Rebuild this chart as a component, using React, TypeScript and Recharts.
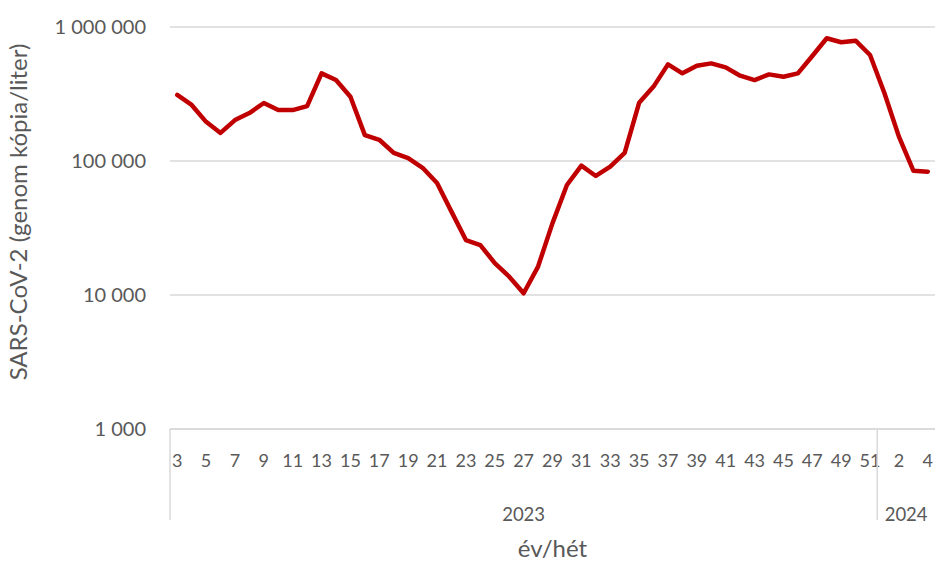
import React from "react";
import {
  LineChart,
  Line,
  XAxis,
  YAxis,
  CartesianGrid,
} from "recharts";

// 2023: weeks 3..51, 2024: weeks 1..4 (week 52 of 2023 missing)
const weeks2023 = [
  3, 4, 5, 6, 7, 8, 9, 10, 11, 12, 13, 14, 15, 16, 17, 18, 19, 20, 21, 22, 23, 24, 25, 26, 27,
  28, 29, 30, 31, 32, 33, 34, 35, 36, 37, 38, 39, 40, 41, 42, 43, 44, 45, 46, 47, 48, 49, 50, 51,
];
const values2023 = [
  311000, 262000, 196000, 162000, 202000, 228000, 271000, 240000, 240000, 257000,
  451000, 402000, 302000, 156000, 144000, 115000, 105000, 89000, 68600, 41900,
  25700, 23600, 17300, 13700, 10300, 16300, 34400, 66200, 92300, 77300,
  90800, 115000, 272000, 359000, 526000, 451000, 514000, 535000, 500000, 433000,
  402000, 443000, 425000, 451000, 608000, 824000, 769000, 791000, 618000,
];
const weeks2024 = [1, 2, 3, 4];
const values2024 = [320000, 152000, 84700, 83200];

const yTicks = [1000, 10000, 100000, 1000000];

const rows = [
  ...weeks2023.map((w, i) => ({ key: `2023-${w}`, week: w, value: values2023[i] })),
  ...weeks2024.map((w, i) => ({ key: `2024-${w}`, week: w, value: values2024[i] })),
];

const yearGroups = [
  { year: "2023", start: 0, end: weeks2023.length },
  { year: "2024", start: weeks2023.length, end: weeks2023.length + weeks2024.length },
];
const total = rows.length;

const FONT = "Lato, 'Open Sans', sans-serif";
const GREY = "#595959";
const GRID = "#d9d9d9";

const fmt = (v: number) => String(v).replace(/\B(?=(\d{3})+(?!\d))/g, " ");

// second category row: group separators + year labels
const YearTick = (props: any) => {
  const { x, y, payload, width } = props;
  const idx = payload.index as number;
  const bw = payload.offset ? payload.offset * 2 : width / total;
  const parts: any[] = [];
  yearGroups.forEach((g) => {
    if (g.start === idx) {
      const lx = x - bw / 2;
      parts.push(
        <line key={`l${g.year}`} x1={lx} x2={lx} y1={y - 50} y2={y + 41} stroke={GRID} strokeWidth={1.5} />
      );
    }
    const c = (g.start + g.end) / 2 - 0.5;
    if (Math.floor(c) === idx) {
      parts.push(
        <text
          key={`t${g.year}`}
          x={x + (c - idx) * bw}
          y={y + 42}
          textAnchor="middle"
          fill={GREY}
          fontSize={18.5}
          fontFamily={FONT}
        >
          {g.year}
        </text>
      );
    }
  });
  return <g>{parts}</g>;
};

export default function App() {
  return (
    <div style={{ width: 952, height: 571, background: "#fff" }}>
      <style>{"body{margin:0}"}</style>
      <LineChart
        width={952}
        height={571}
        data={rows}
        margin={{ top: 27, right: 17, bottom: 42, left: 0 }}
      >
        <CartesianGrid horizontal vertical={false} stroke={GRID} strokeWidth={1.3} />
        <XAxis
          dataKey="key"
          scale="band"
          interval={1}
          height={50}
          tickLine={false}
          tickSize={0}
          tickMargin={25}
          axisLine={{ stroke: GRID, strokeWidth: 1.3 }}
          tickFormatter={(k: string) => k.split("-")[1]}
          tick={{ fill: GREY, fontSize: 18, fontFamily: FONT }}
        />
        <XAxis
          xAxisId="yr"
          dataKey="key"
          scale="band"
          interval={0}
          height={50}
          axisLine={false}
          tickLine={false}
          tickSize={0}
          tickMargin={0}
          tick={<YearTick />}
          label={(p: any) => {
            const vb = p.viewBox || {};
            return (
              <text
                x={vb.x + vb.width / 2}
                y={vb.y + vb.height + 28}
                textAnchor="middle"
                fill={GREY}
                fontSize={24}
                fontFamily={FONT}
              >
                év/hét
              </text>
            );
          }}
        />
        <YAxis
          scale="log"
          domain={[1000, 1000000]}
          ticks={yTicks}
          allowDataOverflow
          width={170}
          axisLine={false}
          tickLine={false}
          tickSize={0}
          tickMargin={24}
          tickFormatter={fmt}
          tick={{ fill: GREY, fontSize: 20, fontFamily: FONT }}
          label={(p: any) => {
            const vb = p.viewBox || {};
            const cx = 17.5;
            const cy = vb.y + vb.height / 2 - 16;
            return (
              <text
                x={cx}
                y={cy}
                transform={`rotate(-90 ${cx} ${cy})`}
                textAnchor="middle"
                dominantBaseline="central"
                fill={GREY}
                fontSize={24}
                fontFamily={FONT}
              >
                SARS-CoV-2 (genom kópia/liter)
              </text>
            );
          }}
        />
        <Line
          type="linear"
          dataKey="value"
          stroke="#c00000"
          strokeWidth={4.5}
          strokeLinejoin="round"
          strokeLinecap="round"
          dot={false}
          isAnimationActive={false}
        />
      </LineChart>
    </div>
  );
}
